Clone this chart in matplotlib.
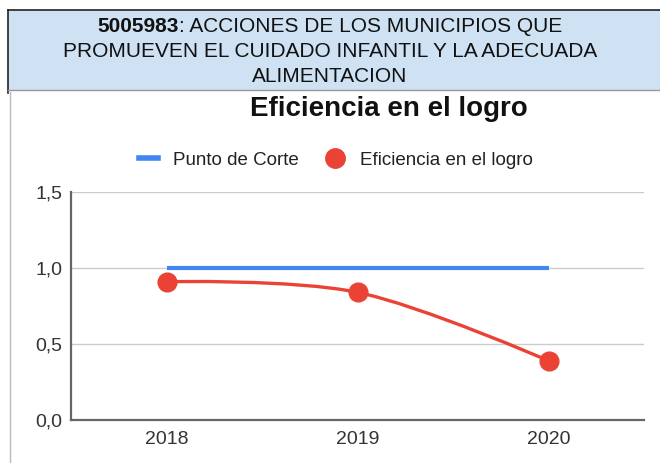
import numpy as np
import matplotlib
matplotlib.use('Agg')
import matplotlib.pyplot as plt
from matplotlib.path import Path
from matplotlib.patches import PathPatch, Rectangle
from matplotlib.lines import Line2D

plt.rcParams['font.family'] = ['Liberation Sans', 'DejaVu Sans']

# DATA
years = ['2018', '2019', '2020']
punto_corte = [1.0, 1.0, 1.0]
eficiencia = [0.91, 0.84, 0.39]
y_ticks = [0.0, 0.5, 1.0, 1.5]
y_tick_labels = ['0,0', '0,5', '1,0', '1,5']

codigo = '5005983'
header_rest = ': ACCIONES DE LOS MUNICIPIOS QUE'
header_lines = ['PROMUEVEN EL CUIDADO INFANTIL Y LA ADECUADA', 'ALIMENTACION']
titulo = 'Eficiencia en el logro'

BLUE = '#4285f4'
RED = '#ea4335'

W, H = 660, 463
fig = plt.figure(figsize=(W / 100, H / 100), dpi=100)
fig.patch.set_facecolor('white')

def fx(px):
    return px / W

def fy(py):
    return 1 - py / H

# header box
fig.patches.append(Rectangle((fx(8), fy(90)), 1 - fx(8), fy(10) - fy(90),
                             transform=fig.transFigure, facecolor='#cfe2f3',
                             edgecolor='none', zorder=0))
fig.add_artist(Line2D([fx(8), 1], [fy(10), fy(10)], color='#222222', lw=1.2))
fig.add_artist(Line2D([fx(8), fx(8)], [fy(10), fy(93)], color='#222222', lw=1.2))
fig.add_artist(Line2D([fx(8), 1], [fy(90), fy(90)], color='#999999', lw=1.0))
fig.add_artist(Line2D([fx(9.5), fx(9.5)], [fy(92), 0], color='#bbbbbb', lw=1.0))

# header text: bold code + normal rest on first line
hdr_size = 15
t1 = fig.text(0.5, fy(27), codigo + header_rest, ha='center', va='center',
              fontsize=hdr_size, color='white', alpha=0)
fig.canvas.draw()
r = fig.canvas.get_renderer()
bb = t1.get_window_extent(r)
tb = fig.text(bb.x0 / W, fy(27), codigo, ha='left', va='center',
              fontsize=hdr_size, fontweight='bold', color='#111111')
bb2 = tb.get_window_extent(r)
fig.text(bb2.x1 / W, fy(27), header_rest, ha='left', va='center',
         fontsize=hdr_size, color='#111111')
fig.text(0.5, fy(51.5), header_lines[0], ha='center', va='center',
         fontsize=hdr_size, color='#111111')
fig.text(0.5, fy(76), header_lines[1], ha='center', va='center',
         fontsize=hdr_size, color='#111111')

# chart title
fig.text(fx(389), fy(109), titulo, ha='center', va='center',
         fontsize=20, fontweight='bold', color='#111111')

# plot area
ax = fig.add_axes([fx(71), fy(420), fx(644) - fx(71), fy(192) - fy(420)])
x = np.arange(len(years))
ax.set_xlim(-0.5, len(years) - 0.5)
ax.set_ylim(0, 1.5)

ax.plot(x, punto_corte, color=BLUE, lw=3, solid_capstyle='butt', zorder=3)

# smooth curve through the data (cubic bezier, endpoints clamped)
pts = np.column_stack([x, eficiencia]).astype(float)
n = len(pts)
tang = np.zeros_like(pts)
for i in range(1, n - 1):
    tang[i] = (pts[i + 1] - pts[i - 1]) / 2
verts = [tuple(pts[0])]
codes = [Path.MOVETO]
for i in range(n - 1):
    c1 = pts[i] + tang[i] / 3
    c2 = pts[i + 1] - tang[i + 1] / 3
    verts += [tuple(c1), tuple(c2), tuple(pts[i + 1])]
    codes += [Path.CURVE4] * 3
ax.add_patch(PathPatch(Path(verts, codes), facecolor='none', edgecolor=RED,
                       lw=2.4, zorder=4))
ax.plot(x, eficiencia, 'o', color=RED, markersize=13.5, zorder=5)

ax.set_yticks(y_ticks)
ax.set_yticklabels(y_tick_labels)
ax.set_xticks(x)
ax.set_xticklabels(years)
ax.tick_params(length=0, labelsize=14, colors='#333333')
ax.tick_params(axis='y', pad=6)
ax.tick_params(axis='x', pad=8)
ax.grid(axis='y', color='#cccccc', lw=1)
ax.set_axisbelow(True)
for s in ['top', 'right']:
    ax.spines[s].set_visible(False)
for s in ['left', 'bottom']:
    ax.spines[s].set_color('#666666')
    ax.spines[s].set_linewidth(1.6)

# legend
handles = [Line2D([], [], color=BLUE, lw=4),
           Line2D([], [], color=RED, marker='o', ls='none', markersize=14)]
fig.legend(handles, ['Punto de Corte', 'Eficiencia en el logro'],
           loc='center', bbox_to_anchor=(fx(336), fy(160)), ncol=2,
           frameon=False, fontsize=13.5, handlelength=1.0, handletextpad=0.8,
           columnspacing=1.45, labelcolor='#222222')

fig.savefig('out.png', dpi=100)
